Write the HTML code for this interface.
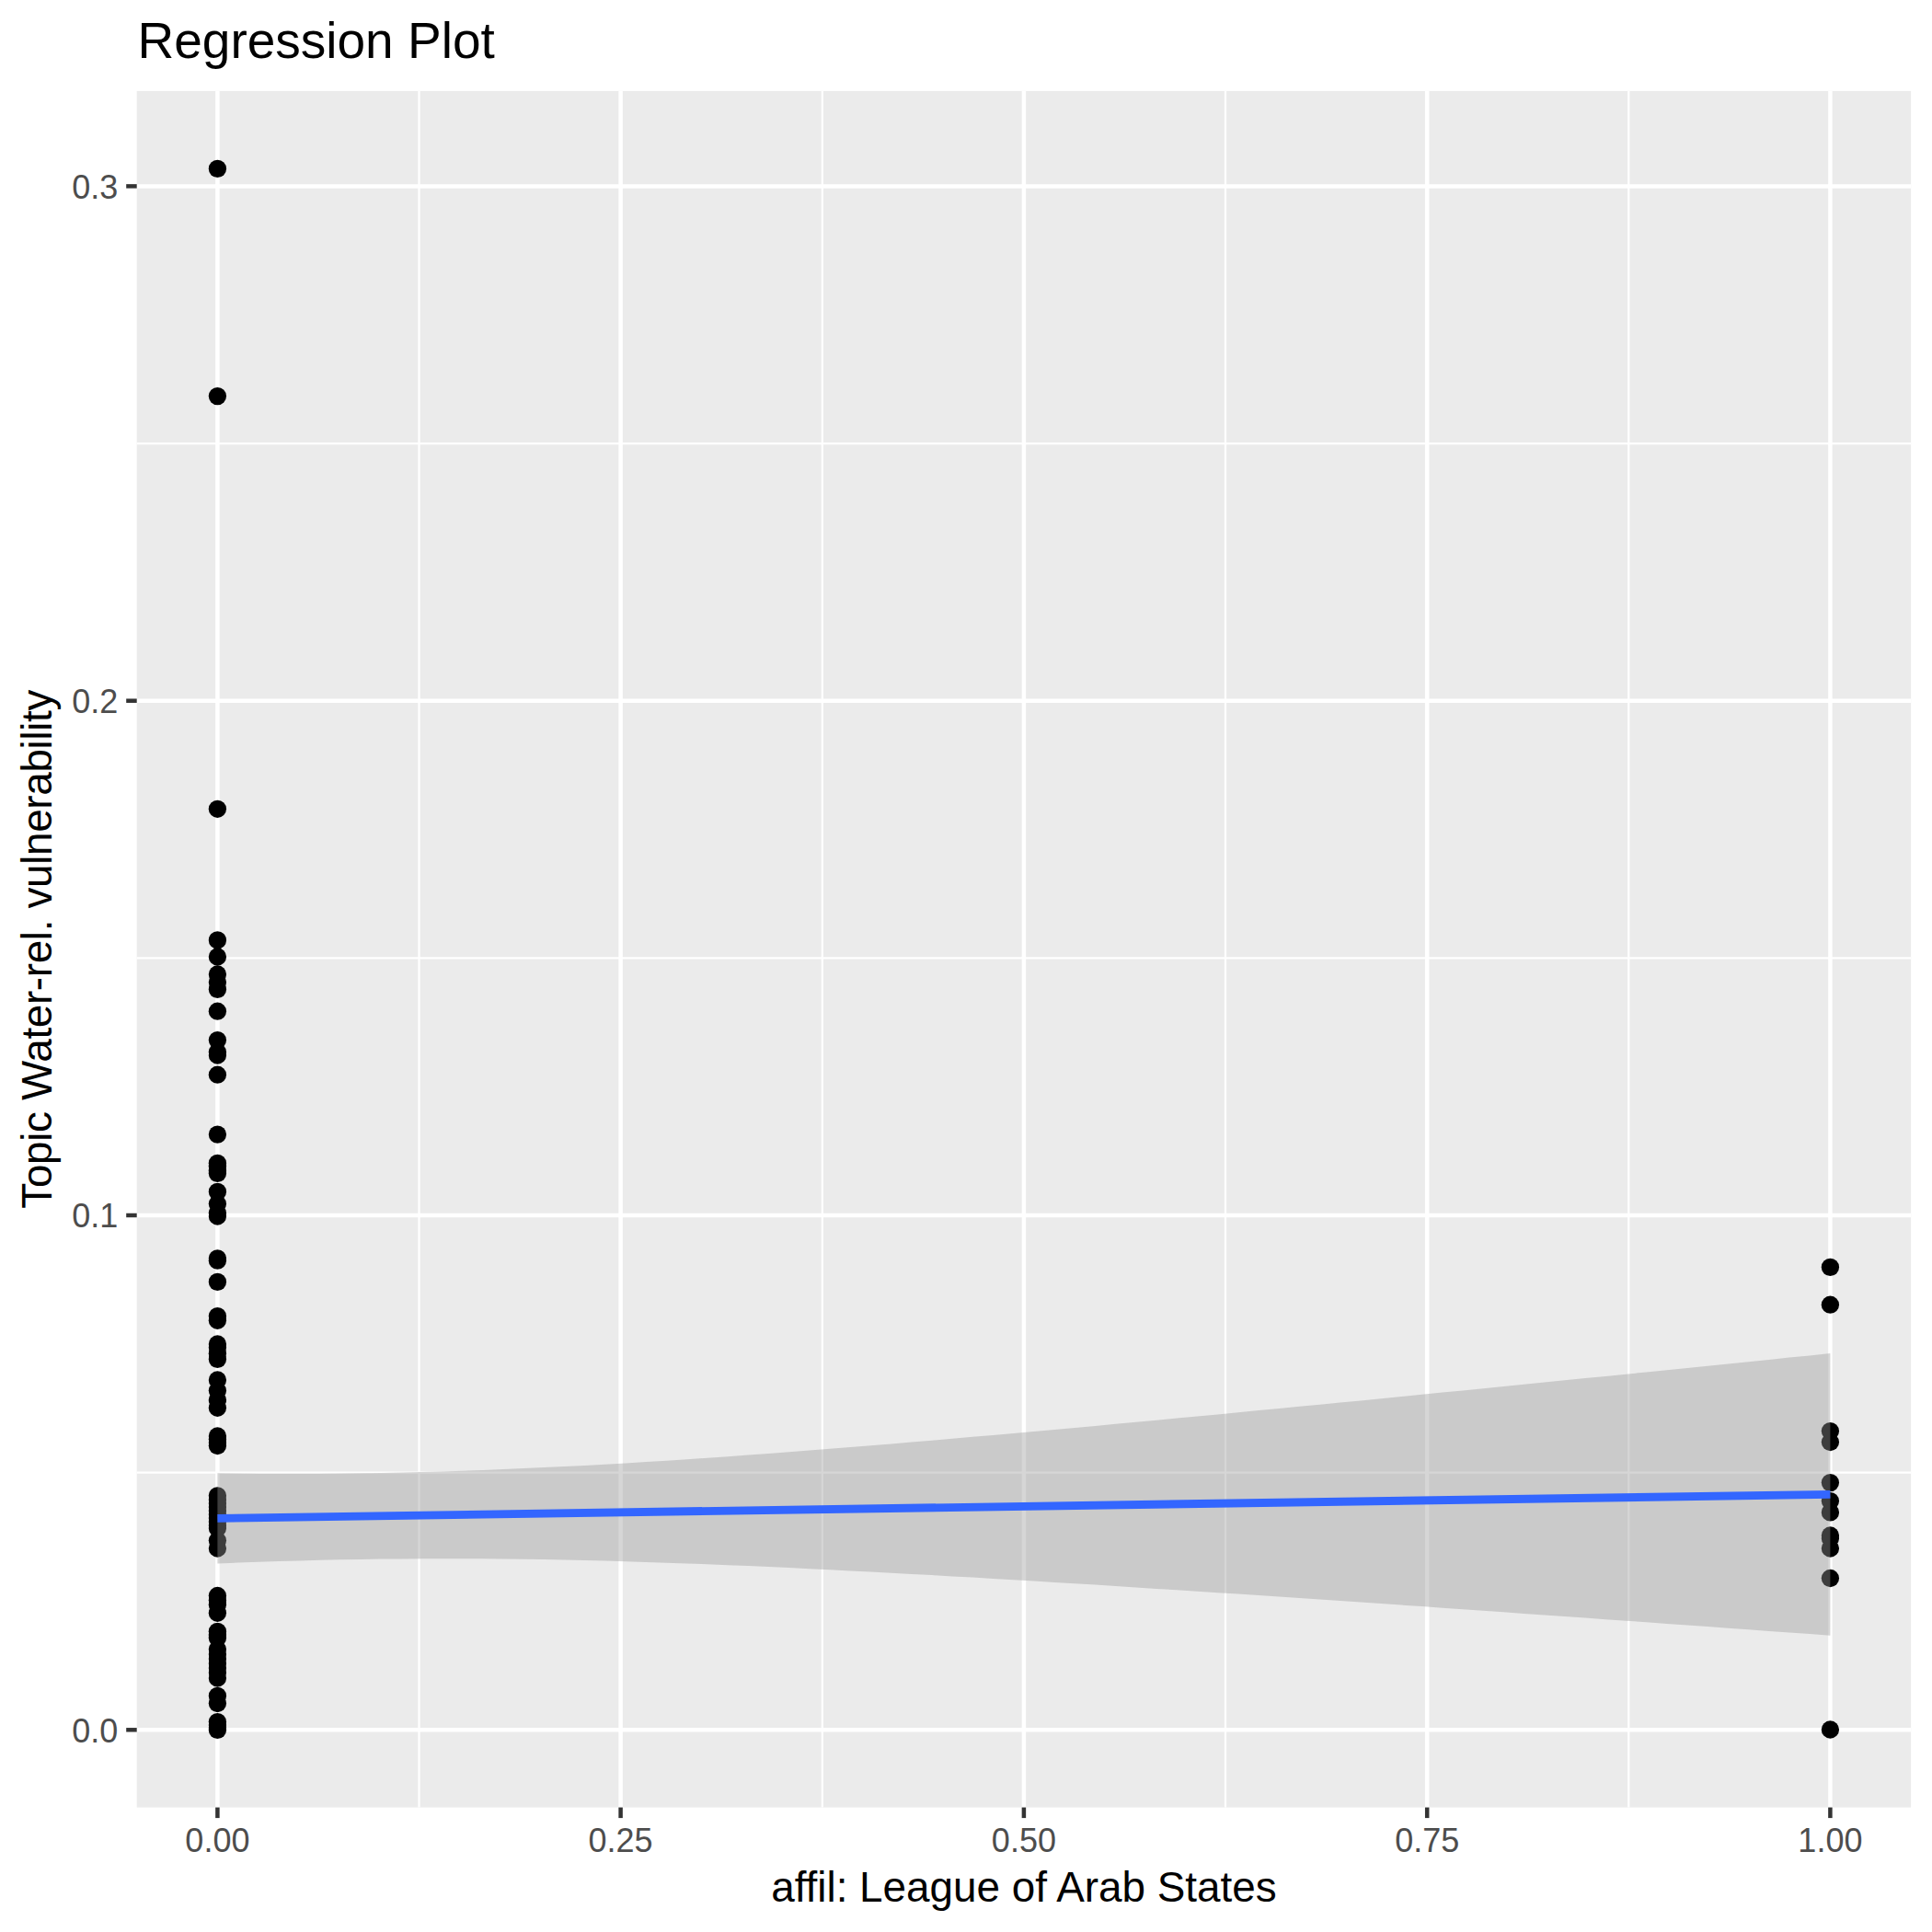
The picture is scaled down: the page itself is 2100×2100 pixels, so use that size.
<!DOCTYPE html>
<html lang="en"><head><meta charset="utf-8"><title>Regression Plot</title>
<style>
html,body{margin:0;padding:0;background:#fff;}
body{width:2100px;height:2100px;overflow:hidden;}
svg{display:block;font-family:"Liberation Sans",Arial,Helvetica,sans-serif;font-variant-ligatures:none;}
.ax{font-size:36px;fill:#4D4D4D;}
.lab{font-size:45.83px;fill:#000;}
.ttl{font-size:55px;fill:#000;}
</style></head><body>
<svg width="2100" height="2100" viewBox="0 0 2100 2100">
<rect x="0" y="0" width="2100" height="2100" fill="#FFFFFF"/>
<rect x="148.7" y="98.9" width="1928.4" height="1865.7" fill="#EBEBEB"/>
<g stroke="#FFFFFF" stroke-width="2.25" shape-rendering="geometricPrecision">
<line x1="148.7" x2="2077.1" y1="1600.6" y2="1600.6"/>
<line x1="148.7" x2="2077.1" y1="1041.3" y2="1041.3"/>
<line x1="148.7" x2="2077.1" y1="482.0" y2="482.0"/>
<line y1="98.9" y2="1964.6" x1="455.5" x2="455.5"/>
<line y1="98.9" y2="1964.6" x1="893.8" x2="893.8"/>
<line y1="98.9" y2="1964.6" x1="1332.0" x2="1332.0"/>
<line y1="98.9" y2="1964.6" x1="1770.3" x2="1770.3"/>
</g>
<g stroke="#FFFFFF" stroke-width="4.5">
<line x1="148.7" x2="2077.1" y1="1880.3" y2="1880.3"/>
<line x1="148.7" x2="2077.1" y1="1321.0" y2="1321.0"/>
<line x1="148.7" x2="2077.1" y1="761.7" y2="761.7"/>
<line x1="148.7" x2="2077.1" y1="202.4" y2="202.4"/>
<line y1="98.9" y2="1964.6" x1="236.4" x2="236.4"/>
<line y1="98.9" y2="1964.6" x1="674.6" x2="674.6"/>
<line y1="98.9" y2="1964.6" x1="1112.9" x2="1112.9"/>
<line y1="98.9" y2="1964.6" x1="1551.2" x2="1551.2"/>
<line y1="98.9" y2="1964.6" x1="1989.4" x2="1989.4"/>
</g>
<g fill="#000000">
<circle cx="236.4" cy="183.4" r="9.65"/>
<circle cx="236.4" cy="430.6" r="9.65"/>
<circle cx="236.4" cy="879.3" r="9.65"/>
<circle cx="236.4" cy="1021.9" r="9.65"/>
<circle cx="236.4" cy="1040" r="9.65"/>
<circle cx="236.4" cy="1059" r="9.65"/>
<circle cx="236.4" cy="1067.8" r="9.65"/>
<circle cx="236.4" cy="1075.4" r="9.65"/>
<circle cx="236.4" cy="1099.2" r="9.65"/>
<circle cx="236.4" cy="1130.6" r="9.65"/>
<circle cx="236.4" cy="1143.5" r="9.65"/>
<circle cx="236.4" cy="1147" r="9.65"/>
<circle cx="236.4" cy="1168.2" r="9.65"/>
<circle cx="236.4" cy="1233.1" r="9.65"/>
<circle cx="236.4" cy="1264.3" r="9.65"/>
<circle cx="236.4" cy="1267.3" r="9.65"/>
<circle cx="236.4" cy="1272.5" r="9.65"/>
<circle cx="236.4" cy="1275.4" r="9.65"/>
<circle cx="236.4" cy="1295.4" r="9.65"/>
<circle cx="236.4" cy="1308.5" r="9.65"/>
<circle cx="236.4" cy="1318.5" r="9.65"/>
<circle cx="236.4" cy="1322" r="9.65"/>
<circle cx="236.4" cy="1367.8" r="9.65"/>
<circle cx="236.4" cy="1370.2" r="9.65"/>
<circle cx="236.4" cy="1393.4" r="9.65"/>
<circle cx="236.4" cy="1430.6" r="9.65"/>
<circle cx="236.4" cy="1435.3" r="9.65"/>
<circle cx="236.4" cy="1461" r="9.65"/>
<circle cx="236.4" cy="1464.7" r="9.65"/>
<circle cx="236.4" cy="1471.3" r="9.65"/>
<circle cx="236.4" cy="1477.4" r="9.65"/>
<circle cx="236.4" cy="1500" r="9.65"/>
<circle cx="236.4" cy="1511.6" r="9.65"/>
<circle cx="236.4" cy="1521.7" r="9.65"/>
<circle cx="236.4" cy="1530.3" r="9.65"/>
<circle cx="236.4" cy="1561" r="9.65"/>
<circle cx="236.4" cy="1564.5" r="9.65"/>
<circle cx="236.4" cy="1568" r="9.65"/>
<circle cx="236.4" cy="1571.5" r="9.65"/>
<circle cx="236.4" cy="1625.8" r="9.65"/>
<circle cx="236.4" cy="1630" r="9.65"/>
<circle cx="236.4" cy="1634" r="9.65"/>
<circle cx="236.4" cy="1638" r="9.65"/>
<circle cx="236.4" cy="1642" r="9.65"/>
<circle cx="236.4" cy="1646" r="9.65"/>
<circle cx="236.4" cy="1650" r="9.65"/>
<circle cx="236.4" cy="1654" r="9.65"/>
<circle cx="236.4" cy="1658" r="9.65"/>
<circle cx="236.4" cy="1661" r="9.65"/>
<circle cx="236.4" cy="1674.6" r="9.65"/>
<circle cx="236.4" cy="1683" r="9.65"/>
<circle cx="236.4" cy="1734.5" r="9.65"/>
<circle cx="236.4" cy="1739.5" r="9.65"/>
<circle cx="236.4" cy="1744.3" r="9.65"/>
<circle cx="236.4" cy="1753.3" r="9.65"/>
<circle cx="236.4" cy="1773.3" r="9.65"/>
<circle cx="236.4" cy="1776.8" r="9.65"/>
<circle cx="236.4" cy="1780.4" r="9.65"/>
<circle cx="236.4" cy="1792.8" r="9.65"/>
<circle cx="236.4" cy="1798" r="9.65"/>
<circle cx="236.4" cy="1803" r="9.65"/>
<circle cx="236.4" cy="1808" r="9.65"/>
<circle cx="236.4" cy="1813" r="9.65"/>
<circle cx="236.4" cy="1818" r="9.65"/>
<circle cx="236.4" cy="1824" r="9.65"/>
<circle cx="236.4" cy="1843.4" r="9.65"/>
<circle cx="236.4" cy="1851.5" r="9.65"/>
<circle cx="236.4" cy="1871.6" r="9.65"/>
<circle cx="236.4" cy="1875" r="9.65"/>
<circle cx="236.4" cy="1878" r="9.65"/>
<circle cx="236.4" cy="1880.4" r="9.65"/>
<circle cx="1989.4" cy="1377.4" r="9.65"/>
<circle cx="1989.4" cy="1418.2" r="9.65"/>
<circle cx="1989.4" cy="1555.6" r="9.65"/>
<circle cx="1989.4" cy="1567.5" r="9.65"/>
<circle cx="1989.4" cy="1611.6" r="9.65"/>
<circle cx="1989.4" cy="1631.6" r="9.65"/>
<circle cx="1989.4" cy="1643.9" r="9.65"/>
<circle cx="1989.4" cy="1669" r="9.65"/>
<circle cx="1989.4" cy="1672" r="9.65"/>
<circle cx="1989.4" cy="1683" r="9.65"/>
<circle cx="1989.4" cy="1715.5" r="9.65"/>
<circle cx="1989.4" cy="1880" r="9.65"/>
</g>
<polygon points="236.4,1601.2 258.6,1601.5 280.8,1601.7 303.0,1601.8 325.2,1601.8 347.3,1601.7 369.5,1601.5 391.7,1601.3 413.9,1600.9 436.1,1600.5 458.3,1600.0 480.5,1599.4 502.7,1598.7 524.9,1597.9 547.1,1597.1 569.2,1596.1 591.4,1595.1 613.6,1594.0 635.8,1592.9 658.0,1591.7 680.2,1590.4 702.4,1589.1 724.6,1587.7 746.8,1586.2 769.0,1584.7 791.1,1583.2 813.3,1581.6 835.5,1579.9 857.7,1578.3 879.9,1576.6 902.1,1574.8 924.3,1573.0 946.5,1571.2 968.7,1569.4 990.9,1567.5 1013.0,1565.7 1035.2,1563.7 1057.4,1561.8 1079.6,1559.9 1101.8,1557.9 1124.0,1555.9 1146.2,1553.9 1168.4,1551.9 1190.6,1549.9 1212.8,1547.8 1234.9,1545.7 1257.1,1543.7 1279.3,1541.6 1301.5,1539.5 1323.7,1537.4 1345.9,1535.3 1368.1,1533.1 1390.3,1531.0 1412.5,1528.8 1434.7,1526.7 1456.8,1524.5 1479.0,1522.4 1501.2,1520.2 1523.4,1518.0 1545.6,1515.8 1567.8,1513.6 1590.0,1511.4 1612.2,1509.2 1634.4,1507.0 1656.6,1504.8 1678.7,1502.6 1700.9,1500.3 1723.1,1498.1 1745.3,1495.9 1767.5,1493.7 1789.7,1491.4 1811.9,1489.2 1834.1,1486.9 1856.3,1484.7 1878.5,1482.4 1900.6,1480.2 1922.8,1477.9 1945.0,1475.6 1967.2,1473.4 1989.4,1471.1 1989.4,1777.7 1967.2,1776.1 1945.0,1774.5 1922.8,1772.9 1900.6,1771.3 1878.5,1769.7 1856.3,1768.1 1834.1,1766.5 1811.9,1764.9 1789.7,1763.3 1767.5,1761.7 1745.3,1760.2 1723.1,1758.6 1700.9,1757.0 1678.7,1755.4 1656.6,1753.9 1634.4,1752.3 1612.2,1750.8 1590.0,1749.2 1567.8,1747.7 1545.6,1746.1 1523.4,1744.6 1501.2,1743.1 1479.0,1741.6 1456.8,1740.1 1434.7,1738.6 1412.5,1737.1 1390.3,1735.6 1368.1,1734.1 1345.9,1732.6 1323.7,1731.2 1301.5,1729.7 1279.3,1728.3 1257.1,1726.9 1234.9,1725.4 1212.8,1724.0 1190.6,1722.6 1168.4,1721.3 1146.2,1719.9 1124.0,1718.6 1101.8,1717.2 1079.6,1715.9 1057.4,1714.6 1035.2,1713.4 1013.0,1712.1 990.9,1710.9 968.7,1709.7 946.5,1708.5 924.3,1707.4 902.1,1706.2 879.9,1705.2 857.7,1704.1 835.5,1703.1 813.3,1702.1 791.1,1701.2 769.0,1700.3 746.8,1699.5 724.6,1698.7 702.4,1697.9 680.2,1697.2 658.0,1696.6 635.8,1696.1 613.6,1695.6 591.4,1695.1 569.2,1694.8 547.1,1694.5 524.9,1694.3 502.7,1694.2 480.5,1694.2 458.3,1694.2 436.1,1694.4 413.9,1694.6 391.7,1694.9 369.5,1695.3 347.3,1695.8 325.2,1696.4 303.0,1697.1 280.8,1697.8 258.6,1698.6 236.4,1699.6" fill="#999999" fill-opacity="0.4"/>
<line x1="236.4" y1="1650.4" x2="1989.4" y2="1624.4" stroke="#3366FF" stroke-width="8.9"/>
<g stroke="#333333" stroke-width="4.5">
<line x1="137.2" x2="148.7" y1="1880.3" y2="1880.3"/>
<line x1="137.2" x2="148.7" y1="1321.0" y2="1321.0"/>
<line x1="137.2" x2="148.7" y1="761.7" y2="761.7"/>
<line x1="137.2" x2="148.7" y1="202.4" y2="202.4"/>
<line y1="1964.6" y2="1976.1" x1="236.4" x2="236.4"/>
<line y1="1964.6" y2="1976.1" x1="674.6" x2="674.6"/>
<line y1="1964.6" y2="1976.1" x1="1112.9" x2="1112.9"/>
<line y1="1964.6" y2="1976.1" x1="1551.2" x2="1551.2"/>
<line y1="1964.6" y2="1976.1" x1="1989.4" x2="1989.4"/>
</g>
<text class="ax" text-anchor="end" x="128.4" y="1893.7">0.0</text>
<text class="ax" text-anchor="end" x="128.4" y="1334.4">0.1</text>
<text class="ax" text-anchor="end" x="128.4" y="775.1">0.2</text>
<text class="ax" text-anchor="end" x="128.4" y="215.8">0.3</text>
<text class="ax" text-anchor="middle" x="236.4" y="2013">0.00</text>
<text class="ax" text-anchor="middle" x="674.6" y="2013">0.25</text>
<text class="ax" text-anchor="middle" x="1112.9" y="2013">0.50</text>
<text class="ax" text-anchor="middle" x="1551.2" y="2013">0.75</text>
<text class="ax" text-anchor="middle" x="1989.4" y="2013">1.00</text>
<text class="lab" text-anchor="middle" x="1112.9" y="2066.5">affil: League of Arab States</text>
<text class="lab" style="letter-spacing:-0.34px" text-anchor="middle" transform="translate(55.9,1031.8) rotate(-90)">Topic Water-rel. vulnerability</text>
<text class="ttl" x="149.5" y="62.6">Regression Plot</text>
</svg></body></html>
